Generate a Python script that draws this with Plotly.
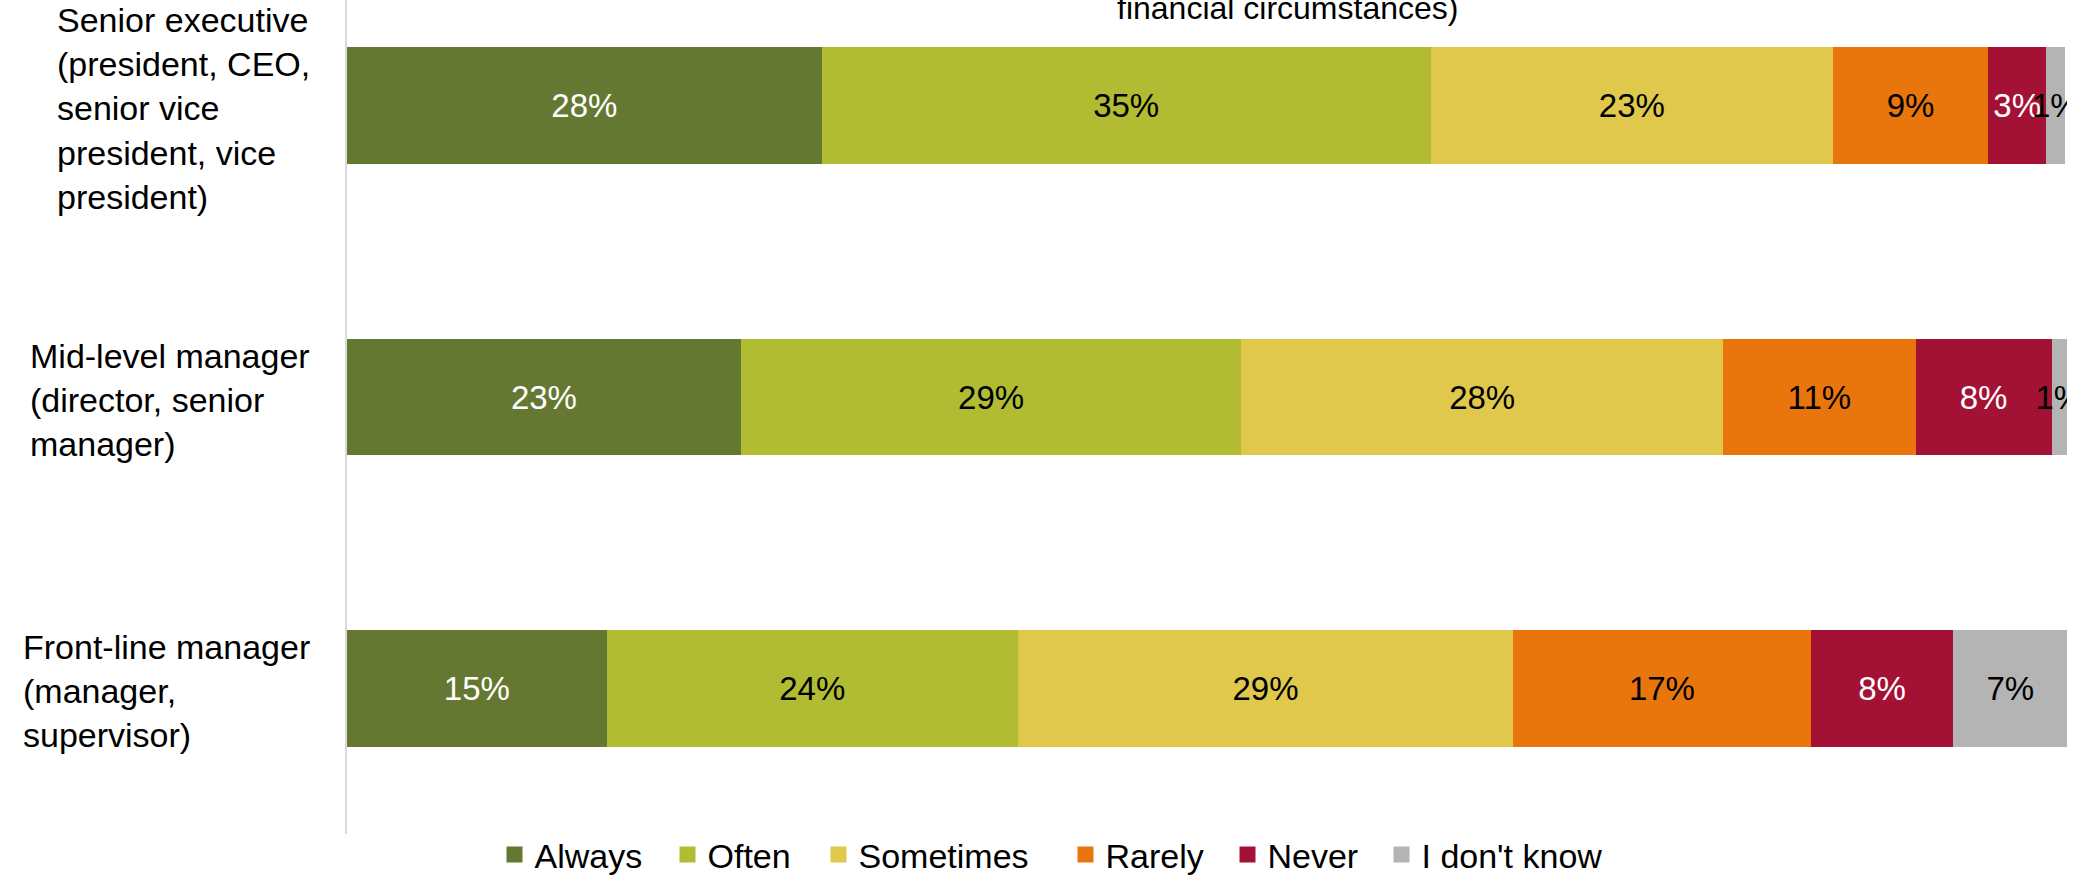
import plotly.graph_objects as go

categories = [
    "Senior executive<br>(president, CEO,<br>senior vice<br>president, vice<br>president)",
    "Mid-level manager<br>(director, senior<br>manager)",
    "Front-line manager<br>(manager,<br>supervisor)",
]
responses = ["Always", "Often", "Sometimes", "Rarely", "Never", "I don't know"]

always = [27.6, 22.9, 15.1]
often = [35.4, 29.1, 23.9]
sometimes = [23.4, 28.0, 28.8]
rarely = [9.0, 11.2, 17.3]
never = [3.4, 7.9, 8.3]
dont_know = [1.1, 0.9, 6.6]

series = [always, often, sometimes, rarely, never, dont_know]
colors = ["#657831", "#b1bc33", "#dfc84b", "#e8760d", "#a31235", "#b4b4b4"]
text_colors = ["white", "black", "black", "black", "white", "black"]

FONT = "Liberation Sans"
W, H = 2099, 876
L, R, T, B = 347, 32, 0, 42
pw = W - L - R
ph = H - T - B


def px_x(p):
    return (p - L) / pw


fig = go.Figure()

for name, vals, c, tc in zip(responses, series, colors, text_colors):
    fig.add_trace(go.Bar(
        y=categories, x=vals, name=name, orientation="h",
        marker=dict(color=c, line=dict(width=0)),
        texttemplate="%{x:.0f}%", textposition="inside",
        insidetextanchor="middle", textangle=0,
        textfont=dict(family=FONT, size=33, color=tc),
        showlegend=False, hoverinfo="skip",
    ))

# legend entries, one small legend each so spacing can follow the original
legend_centers = [514.5, 687.5, 838.5, 1085.5, 1247.5, 1401.5]
legend_layout = {}
for i, (name, c) in enumerate(zip(responses, colors)):
    key = "legend" if i == 0 else f"legend{i + 1}"
    fig.add_trace(go.Scatter(
        x=[None], y=[None], mode="markers", name=name,
        marker=dict(symbol="square", size=19, color=c),
        legend=key, showlegend=True,
    ))
    legend_layout[key] = dict(
        x=px_x(legend_centers[i] - 20), xanchor="left",
        y=-21 / ph, yanchor="middle",
        orientation="h", bgcolor="rgba(0,0,0,0)", borderwidth=0,
        font=dict(family=FONT, size=34, color="black"),
    )

# category labels, lines left aligned like the original
for cat in categories:
    fig.add_annotation(
        x=px_x(312), xref="paper", y=cat, yref="y",
        xanchor="right", yanchor="middle", align="left", yshift=-3,
        text=cat, showarrow=False,
        font=dict(family=FONT, size=34, color="black"),
    )

# last line of the title, cut by the top edge
fig.add_annotation(
    x=px_x(1287), xref="paper", y=1 - 28 / ph, yref="paper",
    xanchor="center", yanchor="bottom",
    text="financial circumstances)", showarrow=False,
    font=dict(family=FONT, size=32, color="black"),
)

top = -0.5 + 40 / 291.5
fig.update_layout(
    width=W, height=H,
    margin=dict(l=L, r=R, t=T, b=B, autoexpand=False),
    barmode="stack", bargap=0.6,
    plot_bgcolor="white", paper_bgcolor="white",
    xaxis=dict(range=[0, 100], visible=False, fixedrange=True),
    yaxis=dict(range=[2.5, top], showticklabels=False, ticks="",
               showgrid=False, zeroline=False,
               showline=True, linecolor="#d9d9d9", linewidth=2),
    uniformtext=dict(mode="show", minsize=33),
    **legend_layout,
)

# drop the default page margin so the figure sits at the window corner
fig.write_html("out.html", config={"displayModeBar": False},
               post_script="document.body.style.margin='0';")
